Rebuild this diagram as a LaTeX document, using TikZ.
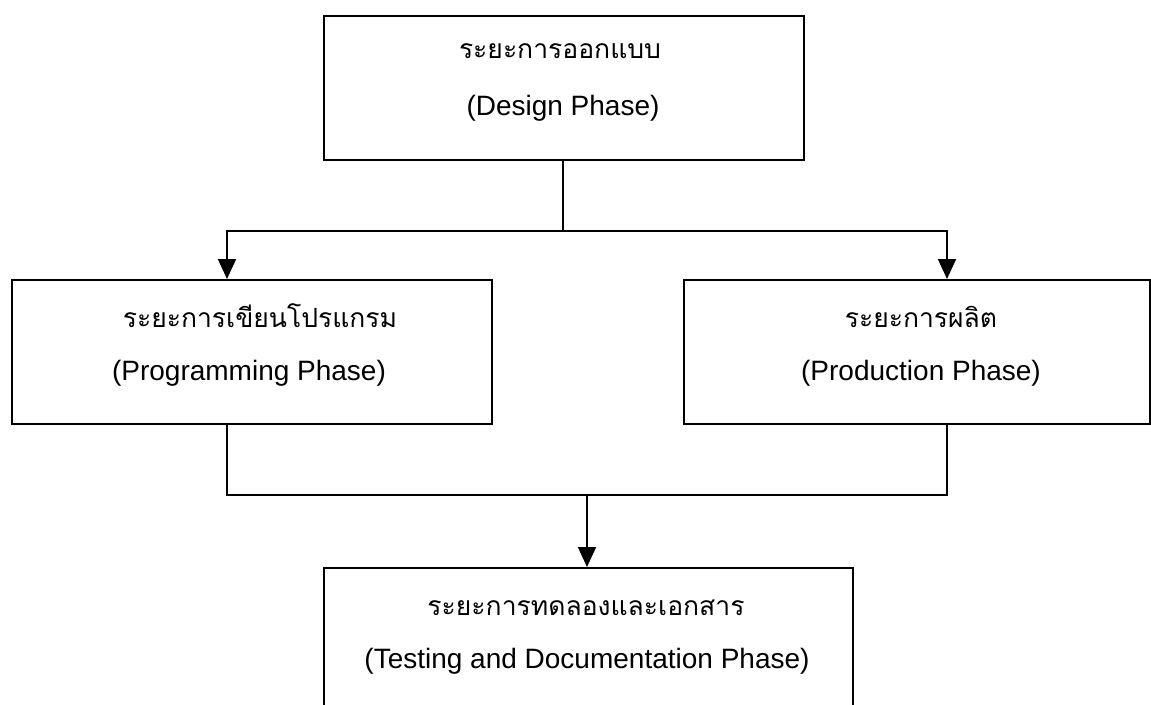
\documentclass[tikz,border=0pt]{standalone}
\usepackage{fontspec}
\setmainfont{Liberation Sans}
\newfontfamily\thaifont[Script=Thai]{Loma}
\usetikzlibrary{arrows.meta}
\begin{document}
\begin{tikzpicture}[x=1pt,y=-1pt,
  box/.style={draw, line width=1.8pt, rectangle, inner sep=0pt, anchor=north west},
  th/.style={font=\thaifont\fontsize{26.5}{30}\selectfont, inner sep=0pt, anchor=base},
  en/.style={font=\fontsize{28}{32}\selectfont, inner sep=0pt, anchor=base},
  link/.style={line width=1.8pt},
  arr/.style={line width=1.8pt, -{Triangle[length=20pt,width=18pt]}}]
\useasboundingbox (0,0) rectangle (1151,704);

% phase boxes
\node[box, minimum width=480pt, minimum height=144pt] (design) at (323,15) {};
\node[box, minimum width=480pt, minimum height=144pt] (prog) at (11,279) {};
\node[box, minimum width=466pt, minimum height=144pt] (prod) at (683,279) {};
\node[box, minimum width=529pt, minimum height=160pt] (test) at (323,567) {};

% labels
\node[th] (designTh) at (560,58) {ระยะการออกแบบ};
\node[en] (designEn) at (563,115) {(Design Phase)};
\node[th] (progTh) at (260,327) {ระยะการเขียนโปรแกรม};
\node[en] (progEn) at (249,380) {(Programming Phase)};
\node[th] (prodTh) at (921,327) {ระยะการผลิต};
\node[en] (prodEn) at (921,380) {(Production Phase)};
\node[th] (testTh) at (586,615) {ระยะการทดลองและเอกสาร};
\node[en] (testEn) at (587,668) {(Testing and Documentation Phase)};

% junction points
\coordinate (split) at (563,231);
\coordinate (pa) at (227,231);
\coordinate (pb) at (947,231);
\coordinate (ma) at (227,495);
\coordinate (mb) at (947,495);
\coordinate (merge) at (587,495);

% connectors
\draw[link] (design.south -| split) -- (split);
\draw[arr] (split) -- (pa) -- (pa |- prog.north);
\draw[arr] (split) -- (pb) -- (pb |- prod.north);
\draw[link] (prog.south -| ma) -- (ma) -- (mb) -- (prod.south -| mb);
\draw[arr] (merge) -- (merge |- test.north);
\end{tikzpicture}
\end{document}
